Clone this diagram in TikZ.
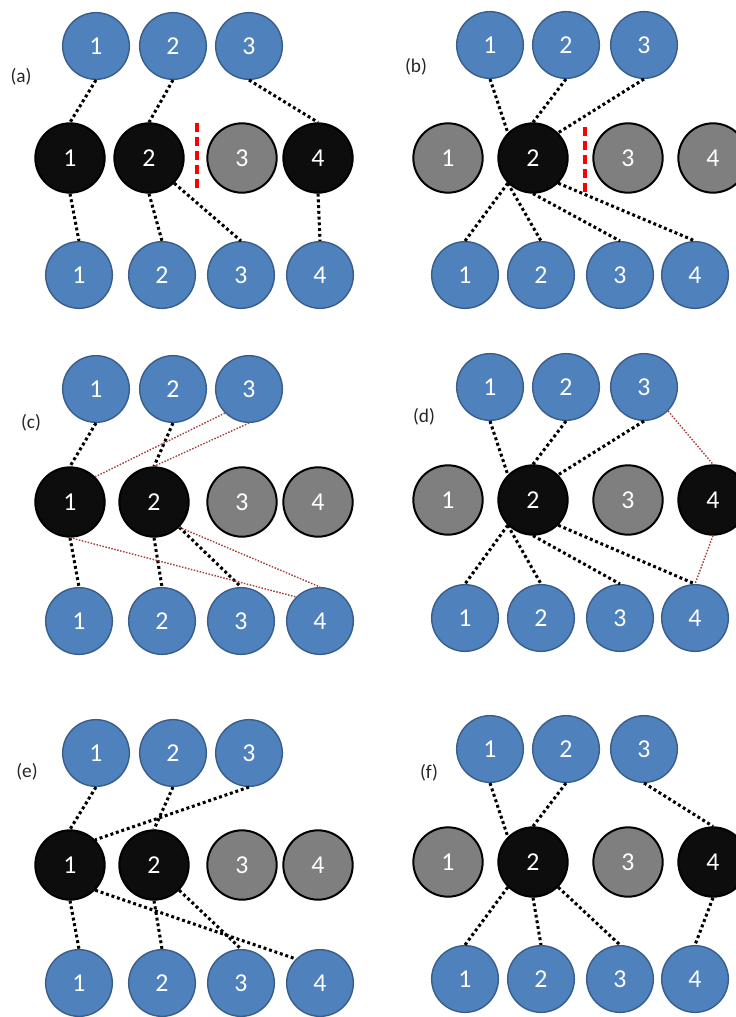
\documentclass[tikz,border=0pt]{standalone}
\usepackage{fontspec}
\setmainfont{Carlito}
\definecolor{NeuronBlue}{HTML}{4F81BD}
\definecolor{NeuronEdge}{HTML}{385D8A}
\definecolor{IdleGray}{HTML}{7F7F7F}
\definecolor{ActiveBlack}{HTML}{0D0D0D}
\definecolor{WeakRed}{HTML}{A5403C}
\definecolor{LabelGray}{HTML}{262626}
\tikzset{
  neuron/.style={circle, fill=NeuronBlue, draw=NeuronEdge, line width=1.2pt, minimum size=2.0cm, inner sep=0pt, text=white, font=\fontsize{22}{24}\selectfont},
  hidden/.style={circle, fill=#1, draw=black, line width=1.7pt, minimum size=2.08cm, inner sep=0pt, text=white, font=\fontsize{22}{24}\selectfont},
  link/.style={black, line width=2.6pt, dash pattern=on 2.5pt off 2.4pt},
  weak/.style={WeakRed, line width=1.2pt, dash pattern=on 1.3pt off 1.3pt},
  cut/.style={red, line width=2.6pt, dash pattern=on 7.5pt off 4.5pt},
  tag/.style={text=LabelGray, font=\fontsize{16.5}{18}\selectfont}
}
\begin{document}
\begin{tikzpicture}[x=0.03cm,y=-0.03cm]
    \useasboundingbox (0,0) rectangle (736,1017);
    % (a)
    \node[tag] (lbla) at (21,77) {(a)};
    \foreach \n/\x in {1/96,2/173,3/249} \node[neuron] (a-t\n) at (\x,46) {\n};
    \foreach \n/\x/\c in {1/70/ActiveBlack,2/149/ActiveBlack,3/242/IdleGray,4/318/ActiveBlack}
        \node[hidden=\c] (a-m\n) at (\x,158) {\n};
    \foreach \n/\x in {1/79,2/162,3/241,4/320} \node[neuron] (a-b\n) at (\x,275) {\n};
    \draw[link] (a-t1.south) -- (a-m1.north);
    \draw[link] (a-t2.south) -- (a-m2.north);
    \draw[link] (a-t3.south) -- (a-m4.north);
    \draw[link] (a-m1.south) -- (a-b1.north);
    \draw[link] (a-m2.south) -- (a-b2.north);
    \draw[link] (a-m2.south east) -- (a-b3.north);
    \draw[link] (a-m4.south) -- (a-b4.north);
    \draw[cut] (197,123) -- (197,192);
    % (b)
    \node[tag] (lblb) at (416,67) {(b)};
    \foreach \n/\x in {1/490,2/566,3/644} \node[neuron] (b-t\n) at (\x,45) {\n};
    \foreach \n/\x/\c in {1/448/IdleGray,2/533/ActiveBlack,3/628/IdleGray,4/713/IdleGray}
        \node[hidden=\c] (b-m\n) at (\x,158) {\n};
    \foreach \n/\x in {1/465,2/541,3/620,4/695} \node[neuron] (b-b\n) at (\x,275) {\n};
    \draw[link] (b-t1.south) -- (b-m2.north west);
    \draw[link] (b-t2.south) -- (b-m2.north);
    \draw[link] (b-t3.south) -- (b-m2.north east);
    \draw[link] (b-m2.south west) -- (b-b1.north);
    \draw[link] (b-m2.south west) -- (b-b2.north);
    \draw[link] (b-m2.south) -- (b-b3.north);
    \draw[link] (b-m2.south east) -- (b-b4.north);
    \draw[cut] (585,127) -- (585,193);
    % (c)
    \node[tag] (lblc) at (31,423) {(c)};
    \foreach \n/\x in {1/96,2/173,3/249} \node[neuron] (c-t\n) at (\x,389) {\n};
    \foreach \n/\x/\c in {1/70/ActiveBlack,2/154/ActiveBlack,3/242/IdleGray,4/318/IdleGray}
        \node[hidden=\c] (c-m\n) at (\x,502) {\n};
    \foreach \n/\x in {1/79,2/162,3/241,4/320} \node[neuron] (c-b\n) at (\x,621) {\n};
    \draw[link] (c-t1.south) -- (c-m1.north);
    \draw[link] (c-t2.south) -- (c-m2.north);
    \draw[link] (c-m1.south) -- (c-b1.north);
    \draw[link] (c-m2.south) -- (c-b2.north);
    \draw[link] (c-m2.south east) -- (c-b3.north);
    \draw[weak] (c-t3.south west) -- (c-m1.north east);
    \draw[weak] (c-t3.south) -- (c-m2.north);
    \draw[weak] (c-m1.south) -- (c-b4.north west);
    \draw[weak] (c-m2.south east) -- (c-b4.north);
    % (d)
    \node[tag] (lbld) at (424,417) {(d)};
    \foreach \n/\x in {1/490,2/566,3/644} \node[neuron] (d-t\n) at (\x,387) {\n};
    \foreach \n/\x/\c in {1/448/IdleGray,2/533/ActiveBlack,3/628/IdleGray,4/713/ActiveBlack}
        \node[hidden=\c] (d-m\n) at (\x,500) {\n};
    \foreach \n/\x in {1/465,2/541,3/620,4/695} \node[neuron] (d-b\n) at (\x,618) {\n};
    \draw[link] (d-t1.south) -- (d-m2.north west);
    \draw[link] (d-t2.south) -- (d-m2.north);
    \draw[link] (d-t3.south) -- (d-m2.north east);
    \draw[link] (d-m2.south west) -- (d-b1.north);
    \draw[link] (d-m2.south west) -- (d-b2.north);
    \draw[link] (d-m2.south) -- (d-b3.north);
    \draw[link] (d-m2.south east) -- (d-b4.north);
    \draw[weak] (d-t3.south east) -- (d-m4.north);
    \draw[weak] (d-m4.south) -- (d-b4.north);
    % (e)
    \node[tag] (lble) at (27,772) {(e)};
    \foreach \n/\x in {1/96,2/173,3/249} \node[neuron] (e-t\n) at (\x,753) {\n};
    \foreach \n/\x/\c in {1/70/ActiveBlack,2/154/ActiveBlack,3/242/IdleGray,4/318/IdleGray}
        \node[hidden=\c] (e-m\n) at (\x,865) {\n};
    \foreach \n/\x in {1/79,2/162,3/241,4/320} \node[neuron] (e-b\n) at (\x,983) {\n};
    \draw[link] (e-t1.south) -- (e-m1.north);
    \draw[link] (e-t2.south) -- (e-m2.north);
    \draw[link] (e-t3.south) -- (e-m1.north east);
    \draw[link] (e-m1.south) -- (e-b1.north);
    \draw[link] (e-m2.south) -- (e-b2.north);
    \draw[link] (e-m2.south east) -- (e-b3.north);
    \draw[link] (e-m1.south east) -- (e-b4.north west);
    % (f)
    \node[tag] (lblf) at (429,773) {(f)};
    \foreach \n/\x in {1/490,2/566,3/644} \node[neuron] (f-t\n) at (\x,749) {\n};
    \foreach \n/\x/\c in {1/448/IdleGray,2/533/ActiveBlack,3/628/IdleGray,4/713/ActiveBlack}
        \node[hidden=\c] (f-m\n) at (\x,862) {\n};
    \foreach \n/\x in {1/465,2/541,3/620,4/695} \node[neuron] (f-b\n) at (\x,979) {\n};
    \draw[link] (f-t1.south) -- (f-m2.north west);
    \draw[link] (f-t2.south) -- (f-m2.north);
    \draw[link] (f-t3.south) -- (f-m4.north);
    \draw[link] (f-m2.south west) -- (f-b1.north);
    \draw[link] (f-m2.south) -- (f-b2.north);
    \draw[link] (f-m2.south east) -- (f-b3.north);
    \draw[link] (f-m4.south) -- (f-b4.north);
\end{tikzpicture}
\end{document}
